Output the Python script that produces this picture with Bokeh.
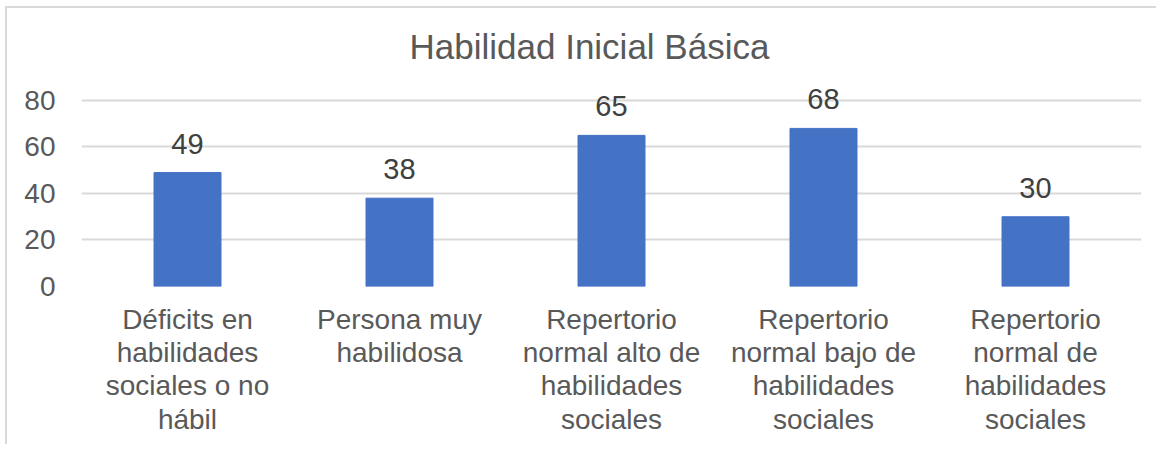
from bokeh.plotting import figure
from bokeh.models import FactorRange, Range1d, FixedTicker, ColumnDataSource
from bokeh.core.properties import value
from bokeh.embed import file_html
from bokeh.resources import INLINE

categories = [
    "Déficits en\nhabilidades\nsociales o no\nhábil",
    "Persona muy\nhabilidosa",
    "Repertorio\nnormal alto de\nhabilidades\nsociales",
    "Repertorio\nnormal bajo de\nhabilidades\nsociales",
    "Repertorio\nnormal de\nhabilidades\nsociales",
]
values = [49, 38, 65, 68, 30]
y_ticks = [0, 20, 40, 60, 80]
title_text = "Habilidad Inicial Básica"

FONT = "Liberation Sans"

src = ColumnDataSource(dict(cat=categories, val=values, lab=[str(v) for v in values]))

p = figure(
    width=1156, height=444,
    x_range=FactorRange(*categories, range_padding=0),
    y_range=Range1d(0, 92.9),
    output_backend="svg", toolbar_location=None,
    min_border_left=81, min_border_right=15,
    min_border_top=70, min_border_bottom=158,
)
p.x_range.factor_padding = 0
p.outline_line_color = None
p.border_fill_color = None

p.title.text = title_text
p.title.align = "left"
p.title.offset = 328
p.title.text_font = FONT
p.title.text_font_size = "35px"
p.title.text_font_style = "normal"
p.title.text_color = "#595959"
p.title.standoff = 10

p.vbar(x="cat", top="val", width=0.316, source=src,
       fill_color="#4472C4", line_color="#4472C4")

p.text(x="cat", y="val", text="lab", source=src,
       text_font=value(FONT), text_font_size="29px", text_color="#404040",
       text_align="center", text_baseline="alphabetic", y_offset=-29)

p.xgrid.grid_line_color = None
p.ygrid.grid_line_color = "#D9D9D9"
p.ygrid.grid_line_width = 2

p.yaxis.ticker = FixedTicker(ticks=y_ticks)
p.yaxis.axis_line_color = None
p.yaxis.major_tick_line_color = None
p.yaxis.minor_tick_line_color = None
p.yaxis.major_tick_out = 0
p.yaxis.major_label_standoff = 26
p.yaxis.major_label_text_font = FONT
p.yaxis.major_label_text_font_size = "28px"
p.yaxis.major_label_text_color = "#595959"

p.xaxis.axis_line_color = None
p.xaxis.major_tick_line_color = None
p.xaxis.major_tick_out = 0
p.xaxis.major_label_standoff = 17
p.xaxis.major_label_text_font = FONT
p.xaxis.major_label_text_font_size = "28px"
p.xaxis.major_label_text_line_height = 1.08
p.xaxis.major_label_text_color = "#595959"

p.styles = {
    "background": (
        "linear-gradient(#D9D9D9,#D9D9D9) 5px 6px / 2px 100% no-repeat, "
        "linear-gradient(#D9D9D9,#D9D9D9) 5px 6px / 100% 2px no-repeat, white"
    )
}

open("out.html", "w").write(file_html(p, INLINE))
